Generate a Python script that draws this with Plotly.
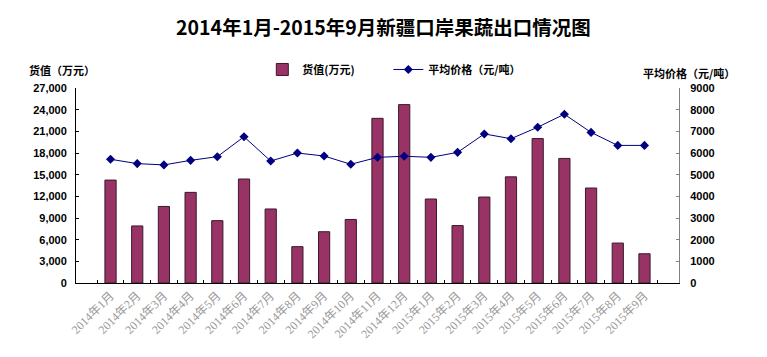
import plotly.graph_objects as go

months = ["2014年1月","2014年2月","2014年3月","2014年4月","2014年5月","2014年6月","2014年7月",
          "2014年8月","2014年9月","2014年10月","2014年11月","2014年12月","2015年1月","2015年2月",
          "2015年3月","2015年4月","2015年5月","2015年6月","2015年7月","2015年8月","2015年9月"]
value_wan = [14250, 7900, 10600, 12550, 8630, 14400, 10250, 5030, 7100, 8800, 22800, 24700,
             11630, 7950, 11900, 14700, 20000, 17250, 13150, 5530, 4050]
avg_price = [5710, 5510, 5450, 5660, 5830, 6750, 5630, 6000, 5860, 5480, 5800, 5850,
             5800, 6030, 6880, 6660, 7190, 7790, 6950, 6350, 6350]
left_ticks = [0, 3000, 6000, 9000, 12000, 15000, 18000, 21000, 24000, 27000]
right_ticks = [0, 1000, 2000, 3000, 4000, 5000, 6000, 7000, 8000, 9000]

tickfont = dict(family="Liberation Sans, Arial", size=11, color="#000", weight="bold")
cjk = "Noto Sans CJK SC"

fig = go.Figure()
fig.add_trace(go.Bar(x=months, y=value_wan, name="货值(万元)",
                     marker=dict(color="#993366", line=dict(color="#3a1a2a", width=1)),
                     yaxis="y", legend="legend", showlegend=True))
fig.add_trace(go.Scatter(x=months, y=avg_price, name="平均价格（元/吨）", mode="lines+markers",
                         line=dict(color="#000080", width=1),
                         marker=dict(symbol="diamond", size=7, color="#000080"),
                         yaxis="y2", legend="legend2", showlegend=True))

legend_common = dict(orientation="h", yanchor="middle", xanchor="left",
                     font=dict(family=cjk, size=11, color="#000", weight="bold"),
                     bgcolor="rgba(0,0,0,0)", visible=True)

fig.update_layout(
    width=767, height=357,
    showlegend=True,
    margin=dict(l=76, r=88, t=88, b=74),
    paper_bgcolor="white", plot_bgcolor="white",
    bargap=0.58,
    title=dict(text="<b>2014年1月-2015年9月新疆口岸果蔬出口情况图</b>", x=0.5, xanchor="center",
               y=0.92, yanchor="middle",
               font=dict(family=cjk, size=19.5, color="#000")),
    legend=dict(x=0.309, y=1.095, **legend_common),
    legend2=dict(x=0.518, y=1.095, **legend_common),
    xaxis=dict(type="category", tickangle=-45, showline=True, linecolor="#000", linewidth=1,
               ticks="inside", ticklen=3, tickson="boundaries", tickcolor="#000",
               tickfont=dict(family="Liberation Serif, " + cjk, size=12, color="#9a9a9a"),
               showgrid=False),
    yaxis=dict(range=[0, 27000], tickvals=left_ticks, tickformat=",", showline=True,
               linecolor="#000", linewidth=1, ticks="inside", ticklen=3, tickcolor="#000",
               ticklabelstandoff=6,
               showgrid=False, zeroline=False, tickfont=tickfont),
    yaxis2=dict(range=[0, 9000], tickvals=right_ticks, tickformat="d", overlaying="y",
                side="right", showline=True, linecolor="#808080", linewidth=1,
                ticks="inside", ticklen=3, tickcolor="#808080", showgrid=False, zeroline=False,
                ticklabelstandoff=8, tickfont=tickfont),
    annotations=[
        dict(text="<b>货值（万元）</b>", xref="paper", yref="paper", x=-0.081, y=1.092,
             xanchor="left", yanchor="middle", showarrow=False,
             font=dict(family=cjk, size=11, color="#000")),
        dict(text="<b>平均价格（元/吨）</b>", xref="paper", yref="paper", x=1.096, y=1.077,
             xanchor="right", yanchor="middle", showarrow=False,
             font=dict(family=cjk, size=11, color="#000")),
    ],
)

fig.write_html("out.html", config={"displayModeBar": False},
               post_script="document.body.style.margin='0';document.body.style.overflow='hidden';")
